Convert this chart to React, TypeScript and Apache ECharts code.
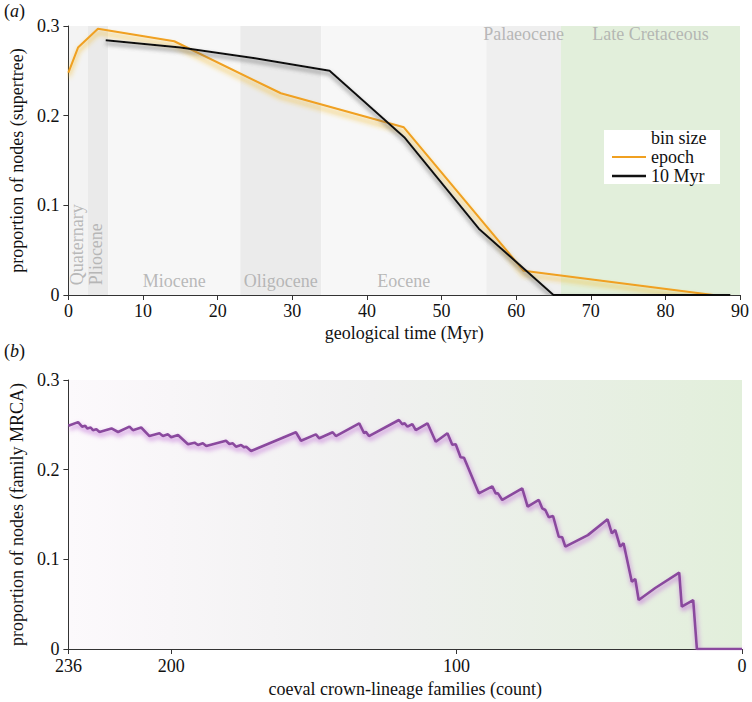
import React, { useEffect, useRef } from 'react';
import * as echarts from 'echarts';

// Geological epochs (Myr)
const epochNames = ['Quaternary', 'Pliocene', 'Miocene', 'Oligocene', 'Eocene', 'Palaeocene', 'Late Cretaceous'];
const epochStart = [0, 2.58, 5.33, 23.03, 33.9, 56, 66];
const epochEnd = [2.58, 5.33, 23.03, 33.9, 56, 66, 100.5];

// Panel (a): proportion of nodes (supertree)
const epochBinX = [0, 1.29, 3.96, 14.18, 28.47, 44.95, 61, 86.4];
const epochBinProp = [0.248, 0.276, 0.297, 0.283, 0.225, 0.187, 0.027, 0];
const tenMyrX = [5, 15, 25, 35, 45, 55, 65, 75, 88.7];
const tenMyrProp = [0.284, 0.276, 0.264, 0.25, 0.176, 0.074, 0, 0, 0];

// Panel (b): proportion of nodes (family MRCA) vs coeval crown-lineage families
const famCount = [236, 232.6, 231.2, 230.1, 229.4, 228.2, 227.4, 226.2, 225.1, 220.9, 218.6, 214.6, 213.4, 210.5, 207.6, 204.1, 202.9, 201.1, 200, 197.6, 194.1, 191.8, 190.6, 188.9, 187.7, 180.8, 179.6, 178.4, 177.3, 175.5, 174.4, 173.7, 172, 156.3, 154.5, 149.3, 148.1, 143.4, 142.3, 134.1, 132.4, 131.8, 130.7, 120.2, 119, 118.2, 117.2, 115.5, 114.3, 110.2, 107.3, 103.2, 101.5, 100.3, 98.6, 97.4, 92.2, 87.5, 86.3, 85.5, 84, 77, 75.1, 71.2, 70, 68.9, 67.7, 66.2, 64.2, 63, 61.9, 54, 47.1, 45.6, 44.4, 42.7, 41.5, 38.6, 37.4, 36.2, 30.4, 22, 21.1, 17.1, 15.8, 0];
const famProp = [0.249, 0.253, 0.248, 0.249, 0.246, 0.247, 0.244, 0.245, 0.242, 0.246, 0.242, 0.248, 0.244, 0.247, 0.2375, 0.2405, 0.2375, 0.2394, 0.2361, 0.2387, 0.2283, 0.2301, 0.2275, 0.2294, 0.2264, 0.2323, 0.2286, 0.2294, 0.2256, 0.2275, 0.2249, 0.2256, 0.2208, 0.2417, 0.2323, 0.2394, 0.235, 0.2417, 0.2375, 0.2517, 0.2406, 0.2423, 0.2375, 0.2554, 0.2506, 0.2517, 0.2479, 0.2509, 0.2442, 0.2517, 0.2312, 0.2406, 0.2278, 0.2283, 0.2138, 0.2133, 0.1736, 0.1814, 0.1736, 0.1736, 0.1662, 0.1792, 0.1587, 0.1662, 0.1569, 0.155, 0.1469, 0.1483, 0.1252, 0.1246, 0.1141, 0.127, 0.1446, 0.129, 0.1327, 0.1141, 0.1179, 0.0751, 0.0781, 0.0546, 0.068, 0.0851, 0.0472, 0.0546, 0, 0];

// Tick labels
const timeTicks = [0, 10, 20, 30, 40, 50, 60, 70, 80, 90];
const propTicks = [0, 0.1, 0.2, 0.3];
const countTicks = [236, 200, 100, 0];

const FONT = "'Liberation Serif', 'DejaVu Serif', serif";
const epochFill = ['#f3f3f3', '#eaeaea', '#f7f7f7', '#ebebeb', '#f7f7f7', '#efefef', '#e2efdb'];

export default function App() {
  const ref = useRef<HTMLDivElement>(null);

  useEffect(() => {
    if (!ref.current) return;
    const chart = echarts.init(ref.current, undefined, { renderer: 'svg' });
    const tMax = timeTicks[timeTicks.length - 1];
    const pMax = propTicks[propTicks.length - 1];
    const cMax = countTicks[0];

    const bands = epochNames.map((n, i) => [
      { xAxis: epochStart[i], itemStyle: { color: epochFill[i] } },
      { xAxis: Math.min(epochEnd[i], tMax) },
    ]);

    const epochLabelData = epochNames.map((n, i) => {
      const s = epochStart[i];
      const e = Math.min(epochEnd[i], tMax);
      const mid = (s + e) / 2;
      const narrow = e - s < 5;
      const top = s >= 55;
      return {
        name: n,
        value: [narrow ? mid - 0.2 : mid, narrow ? 0.011 : top ? 0.291 : 0.016],
        label: narrow
          ? { rotate: 90, align: 'left', verticalAlign: 'middle' }
          : { rotate: 0, align: 'center', verticalAlign: 'middle' },
      };
    });

    const axisLineStyle = { color: '#333', width: 1 };
    const labelStyle = { color: '#111', fontSize: 18, fontFamily: FONT };
    const nameStyle = { color: '#111', fontSize: 18, fontFamily: FONT };

    const option: any = {
      animation: false,
      textStyle: { fontFamily: FONT },
      grid: [
        { left: 67, right: 10, top: 26, height: 269 },
        { left: 67, right: 10, top: 380, height: 269 },
      ],
      xAxis: [
        {
          type: 'value', gridIndex: 0, min: 0, max: tMax, interval: 10,
          axisLine: { show: true, onZero: false, lineStyle: axisLineStyle },
          axisTick: { show: true, inside: false, length: 5, lineStyle: axisLineStyle },
          axisLabel: { ...labelStyle, margin: 7 },
          splitLine: { show: false },
          name: 'geological time (Myr)', nameLocation: 'middle', nameGap: 29, nameTextStyle: nameStyle,
        },
        {
          type: 'value', gridIndex: 1, min: 0, max: cMax, inverse: true,
          axisLine: { show: true, onZero: false, lineStyle: axisLineStyle },
          axisTick: { show: true, inside: false, length: 5, lineStyle: axisLineStyle, customValues: countTicks },
          axisLabel: { ...labelStyle, margin: 8, customValues: countTicks },
          splitLine: { show: false },
          name: 'coeval crown-lineage families (count)', nameLocation: 'middle', nameGap: 31, nameTextStyle: nameStyle,
        },
      ],
      yAxis: [
        {
          type: 'value', gridIndex: 0, min: 0, max: pMax, interval: 0.1, position: 'left',
          axisLine: { show: true, onZero: false, lineStyle: axisLineStyle },
          axisTick: { show: true, inside: false, length: 5, lineStyle: axisLineStyle },
          axisLabel: { ...labelStyle, margin: 9 },
          splitLine: { show: false },
          name: 'proportion of nodes (supertree)', nameLocation: 'middle', nameGap: 37, nameTextStyle: nameStyle,
        },
        {
          type: 'value', gridIndex: 1, min: 0, max: pMax, interval: 0.1, position: 'left',
          axisLine: { show: true, onZero: false, lineStyle: axisLineStyle },
          axisTick: { show: true, inside: false, length: 5, lineStyle: axisLineStyle },
          axisLabel: { ...labelStyle, margin: 9 },
          splitLine: { show: false },
          name: 'proportion of nodes (family MRCA)', nameLocation: 'middle', nameGap: 37, nameTextStyle: nameStyle,
        },
      ],
      series: [
        {
          name: 'epoch', type: 'line', xAxisIndex: 0, yAxisIndex: 0, z: 3,
          data: epochBinX.map((x, i) => [x, epochBinProp[i]]),
          symbol: 'none', silent: true,
          lineStyle: {
            color: '#f0a020', width: 2,
            shadowColor: 'rgba(244,185,40,0.95)', shadowBlur: 5, shadowOffsetY: 4, shadowOffsetX: 0,
          },
          markArea: { silent: true, z: 0, label: { show: false }, data: bands },
        },
        {
          name: '10 Myr', type: 'line', xAxisIndex: 0, yAxisIndex: 0, z: 4,
          data: tenMyrX.map((x, i) => [x, tenMyrProp[i]]),
          symbol: 'none', silent: true,
          lineStyle: {
            color: '#111', width: 2,
            shadowColor: 'rgba(100,100,100,0.9)', shadowBlur: 4, shadowOffsetY: 3, shadowOffsetX: 0,
          },
        },
        {
          name: 'epochs', type: 'scatter', xAxisIndex: 0, yAxisIndex: 0, z: 2,
          symbolSize: 0, silent: true,
          data: epochLabelData,
          label: {
            show: true, position: 'inside', formatter: '{b}',
            color: '#a8a8a8', fontSize: 18, fontFamily: FONT,
          },
        },
        {
          name: 'family MRCA', type: 'line', xAxisIndex: 1, yAxisIndex: 1, z: 3,
          data: famCount.map((c, i) => [c, famProp[i]]),
          symbol: 'none', silent: true,
          lineStyle: {
            color: '#8a4a9e', width: 2.6,
            shadowColor: 'rgba(195,115,215,0.95)', shadowBlur: 5, shadowOffsetY: 3, shadowOffsetX: 1,
          },
          markArea: {
            silent: true, z: 0, label: { show: false },
            data: [[
              {
                xAxis: cMax,
                itemStyle: {
                  color: new echarts.graphic.LinearGradient(0, 0, 1, 0, [
                    { offset: 0, color: '#fcf9fc' },
                    { offset: 0.45, color: '#f0f0f0' },
                    { offset: 1, color: '#e2efdb' },
                  ]),
                },
              },
              { xAxis: 0 },
            ]],
          },
        },
      ],
      graphic: [
        {
          type: 'text', left: 4, top: 2,
          style: {
            text: '({i|a})', fontSize: 18, fontFamily: FONT, fill: '#111',
            rich: { i: { fontStyle: 'italic', fontSize: 18, fontFamily: FONT, fill: '#111' } },
          },
        },
        {
          type: 'text', left: 4, top: 342,
          style: {
            text: '({i|b})', fontSize: 18, fontFamily: FONT, fill: '#111',
            rich: { i: { fontStyle: 'italic', fontSize: 18, fontFamily: FONT, fill: '#111' } },
          },
        },
        { type: 'rect', shape: { x: 604, y: 130, width: 116, height: 54 }, style: { fill: '#ffffff' }, z: 10 },
        { type: 'line', shape: { x1: 612, y1: 157, x2: 646, y2: 157 }, style: { stroke: '#f0a020', lineWidth: 2 }, z: 11 },
        { type: 'line', shape: { x1: 612, y1: 176, x2: 646, y2: 176 }, style: { stroke: '#111', lineWidth: 2.5 }, z: 11 },
        { type: 'text', x: 651, y: 138, z: 11, style: { text: 'bin size', fontSize: 18, lineHeight: 18, fontFamily: FONT, fill: '#111', verticalAlign: 'middle' } },
        { type: 'text', x: 651, y: 156.5, z: 11, style: { text: 'epoch', fontSize: 18, lineHeight: 18, fontFamily: FONT, fill: '#111', verticalAlign: 'middle' } },
        { type: 'text', x: 651, y: 176, z: 11, style: { text: '10 Myr', fontSize: 18, lineHeight: 18, fontFamily: FONT, fill: '#111', verticalAlign: 'middle' } },
      ],
    };

    chart.setOption(option);
    return () => chart.dispose();
  }, []);

  return (
    <div
      ref={ref}
      style={{ position: 'fixed', left: 0, top: 0, width: 752, height: 702, background: '#fff' }}
    />
  );
}
